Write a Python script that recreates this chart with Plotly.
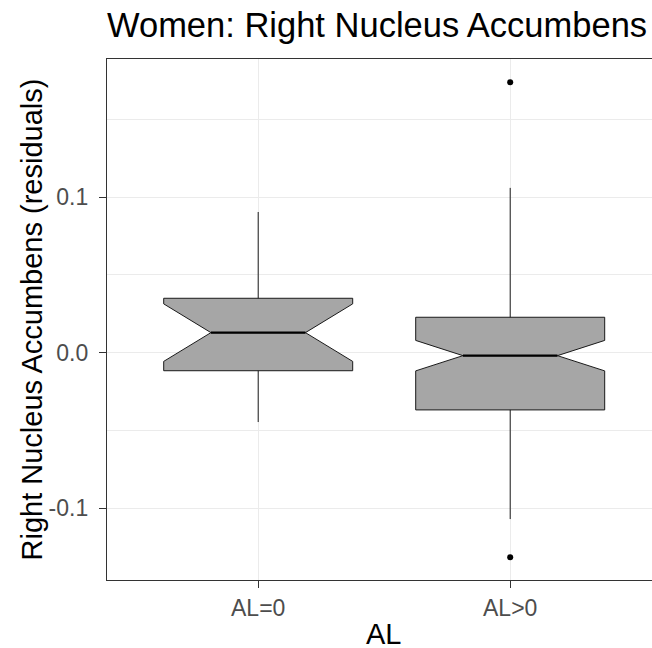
import plotly.graph_objects as go

# ---- data ----
categories = ["AL=0", "AL>0"]
positions = [1, 2]
q1 = [-0.0116, -0.0368]
median = [0.0129, -0.0019]
q3 = [0.0350, 0.0228]
lower_whisker = [-0.0446, -0.1070]
upper_whisker = [0.0905, 0.1060]
notch_span = [0.0185, 0.0098]
outlier_x = [2, 2]
outlier_y = [0.1740, -0.1316]

y_tickvals = [-0.1, 0.0, 0.1]
y_ticktext = ["-0.1", "0.0", "0.1"]

BOX_WIDTH = 0.75
FONT = "Liberation Sans, Arial, sans-serif"

# the original panel runs past the right edge of the 652px picture; the
# figure is made wider and the page clips it
W, H = 661, 648
left, top, right = 107, 59, 0
bottom = H - 580
plot_w = W - left - right
plot_h = H - top - bottom
px_per_cat = 252
x_range = [0.4, 0.4 + plot_w / px_per_cat]

fig = go.Figure()
fig.add_trace(go.Box(
    x=positions, q1=q1, median=median, q3=q3,
    lowerfence=lower_whisker, upperfence=upper_whisker,
    notched=True, notchspan=notch_span, notchwidth=0.25,
    width=BOX_WIDTH, whiskerwidth=0,
    fillcolor="#A6A6A6", line=dict(color="#1a1a1a", width=1),
    boxpoints=False, showlegend=False, hoverinfo="skip",
))

# thicker median segments (ggplot fattens the median line)
half = BOX_WIDTH / 2 * 0.5
for p, m in zip(positions, median):
    fig.add_trace(go.Scatter(
        x=[p - half, p + half], y=[m, m], mode="lines",
        line=dict(color="black", width=2.2), showlegend=False, hoverinfo="skip",
    ))

fig.add_trace(go.Scatter(
    x=outlier_x, y=outlier_y, mode="markers",
    marker=dict(color="black", size=6), showlegend=False, hoverinfo="skip",
))

fig.update_layout(
    width=W, height=H,
    margin=dict(l=left, r=right, t=top, b=bottom, autoexpand=False),
    paper_bgcolor="white", plot_bgcolor="white",
    font=dict(family=FONT),
    title=dict(text="Women: Right Nucleus Accumbens", x=107 / W, xref="container",
               xanchor="left", y=1 - 24.5 / H, yref="container", yanchor="middle",
               font=dict(size=34.5, color="black", family=FONT)),
    xaxis=dict(
        range=x_range, tickvals=positions, ticktext=categories,
        showgrid=True, gridcolor="#EBEBEB", gridwidth=1, zeroline=False,
        showline=True, linecolor="#333333", linewidth=1.3, mirror=True,
        ticks="outside", ticklen=7, tickcolor="#333333", tickwidth=1.3,
        tickfont=dict(size=23, color="#4D4D4D", family=FONT),
    ),
    yaxis=dict(
        range=[-0.1462, 0.1889], tickvals=y_tickvals, ticktext=y_ticktext,
        showgrid=True, gridcolor="#EBEBEB", gridwidth=1, zeroline=False,
        minor=dict(tickvals=[-0.15, -0.05, 0.05, 0.15], showgrid=True,
                   gridcolor="#EBEBEB", gridwidth=0.6, ticks=""),
        showline=True, linecolor="#333333", linewidth=1.3,
        ticks="outside", ticklen=7, tickcolor="#333333", tickwidth=1.3,
        tickfont=dict(size=23, color="#4D4D4D", family=FONT),
        ticklabelstandoff=6,
    ),
    annotations=[
        dict(text="AL", xref="paper", yref="paper",
             x=(383.5 - left) / plot_w, y=-(634 - 580) / plot_h,
             xanchor="center", yanchor="middle", showarrow=False,
             font=dict(size=29, color="black", family=FONT)),
        dict(text="Right Nucleus Accumbens (residuals)", textangle=-90,
             xref="paper", yref="paper",
             x=-(left - 31) / plot_w, y=0.5,
             xanchor="center", yanchor="middle", showarrow=False,
             font=dict(size=29, color="black", family=FONT)),
    ],
)

fig.write_html(
    "out.html",
    config={"displayModeBar": False},
    post_script="document.body.style.margin='0';"
                "document.documentElement.style.overflow='hidden';"
                "document.body.style.overflow='hidden';",
)
